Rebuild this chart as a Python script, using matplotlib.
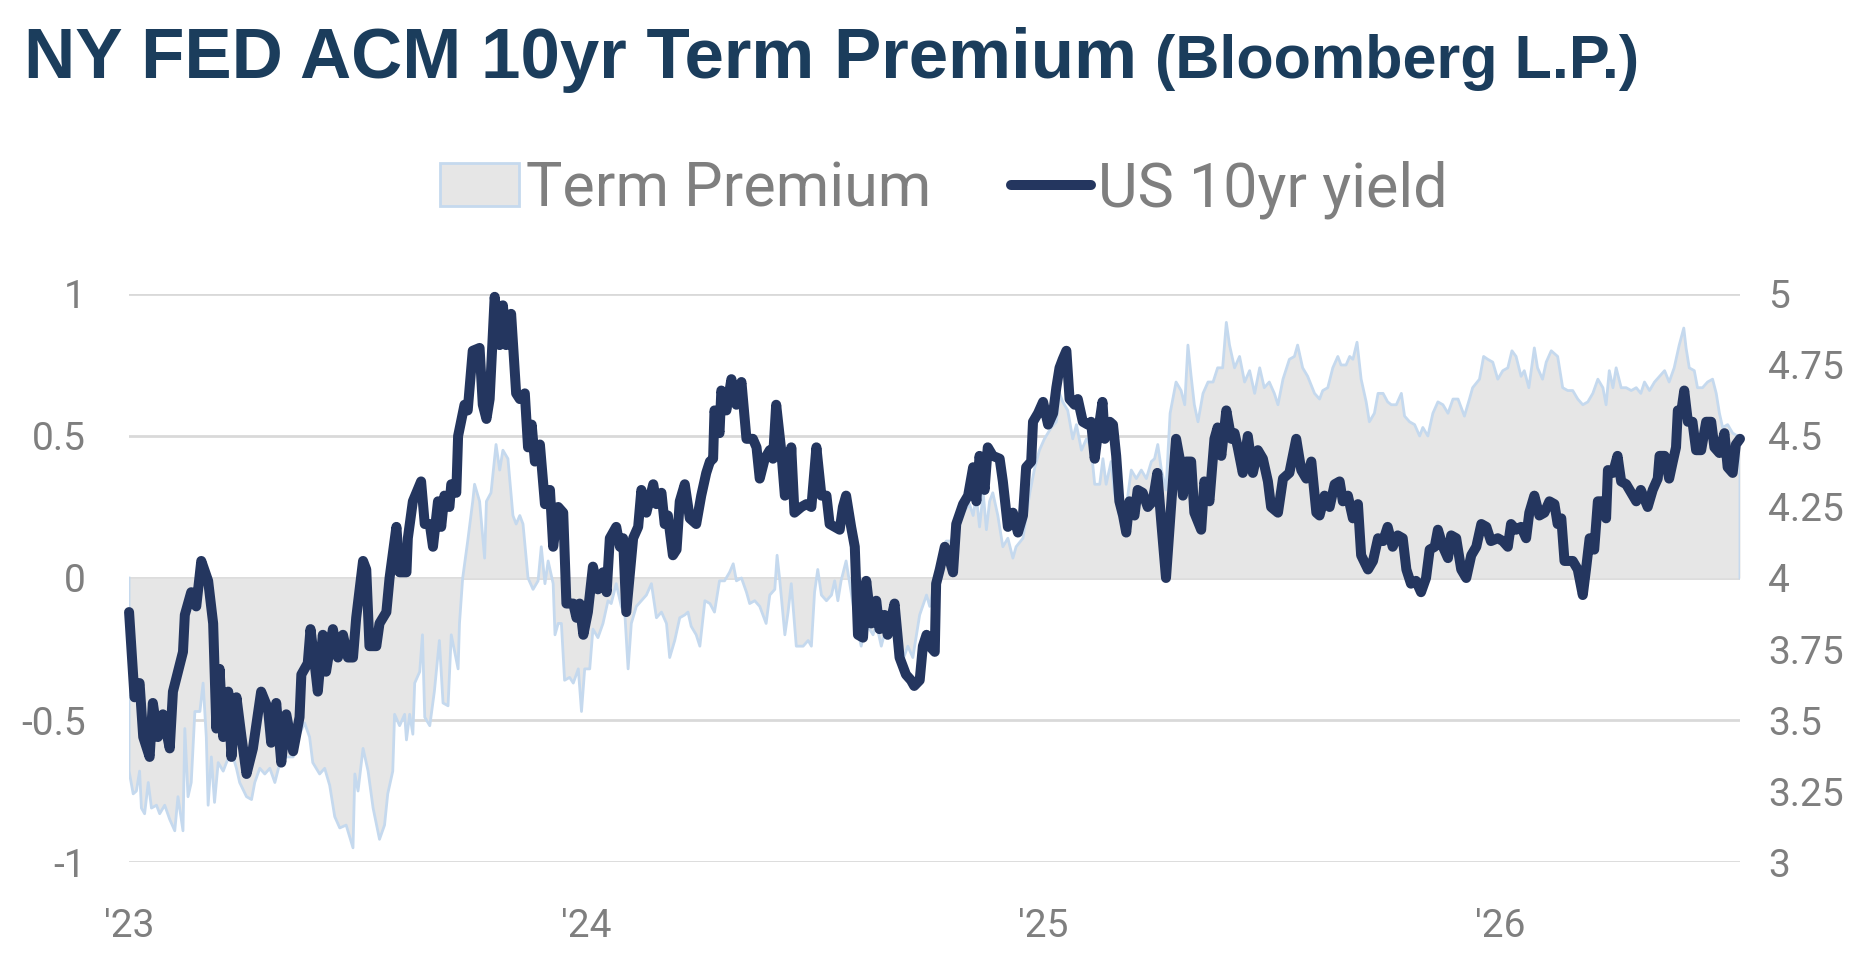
import matplotlib
matplotlib.use("Agg")
import matplotlib.pyplot as plt
from matplotlib import font_manager as fm
from matplotlib.patches import Patch
from matplotlib.lines import Line2D

plt.rcParams['axes.unicode_minus'] = False

names = {f.name for f in fm.fontManager.ttflist}


def pick(*cands):
    for c in cands:
        if c in names:
            return c
    return 'DejaVu Sans'


title_font = pick('Liberation Sans', 'Roboto', 'Open Sans')
label_font = pick('Roboto', 'Lato', 'Open Sans')

# US 10yr yield (right axis), x in decimal years
yld_x = [2023.000, 2023.012, 2023.023, 2023.031, 2023.045, 2023.052, 2023.063, 2023.074, 2023.089, 2023.096,
         2023.107, 2023.118, 2023.122, 2023.136, 2023.147, 2023.158, 2023.173, 2023.184, 2023.191, 2023.198,
         2023.206, 2023.217, 2023.224, 2023.235, 2023.246, 2023.257, 2023.271, 2023.289, 2023.304, 2023.311,
         2023.322, 2023.333, 2023.344, 2023.359, 2023.373, 2023.377, 2023.391, 2023.397, 2023.406, 2023.413,
         2023.424, 2023.431, 2023.446, 2023.457, 2023.468, 2023.479, 2023.490, 2023.497, 2023.512, 2023.519,
         2023.526, 2023.541, 2023.548, 2023.563, 2023.570, 2023.585, 2023.592, 2023.607, 2023.610, 2023.621,
         2023.639, 2023.647, 2023.658, 2023.665, 2023.676, 2023.683, 2023.690, 2023.701, 2023.705, 2023.716,
         2023.720, 2023.734, 2023.741, 2023.752, 2023.767, 2023.774, 2023.782, 2023.789, 2023.800, 2023.811,
         2023.818, 2023.825, 2023.836, 2023.847,
         2023.855, 2023.866, 2023.873, 2023.881, 2023.888, 2023.899, 2023.910, 2023.921, 2023.928, 2023.939,
         2023.950, 2023.957, 2023.972, 2023.979, 2023.986, 2023.994, 2024.004, 2024.015, 2024.026, 2024.037,
         2024.045, 2024.052, 2024.066, 2024.074, 2024.081, 2024.088, 2024.103, 2024.114, 2024.121, 2024.132,
         2024.147, 2024.154, 2024.165, 2024.172, 2024.179, 2024.190, 2024.198, 2024.205, 2024.216, 2024.227,
         2024.241, 2024.252, 2024.263, 2024.271, 2024.278, 2024.281, 2024.292, 2024.296, 2024.307, 2024.318,
         2024.329, 2024.340, 2024.351, 2024.365, 2024.373, 2024.380, 2024.391, 2024.402, 2024.409, 2024.416,
         2024.427, 2024.435, 2024.445, 2024.449, 2024.456, 2024.471, 2024.482, 2024.493, 2024.504, 2024.515,
         2024.526, 2024.533, 2024.544, 2024.555, 2024.562, 2024.569, 2024.580, 2024.588, 2024.595, 2024.606,
         2024.613, 2024.624, 2024.635, 2024.642, 2024.653, 2024.660, 2024.675, 2024.686, 2024.700, 2024.711,
         2024.718,
         2024.730, 2024.737, 2024.745, 2024.752, 2024.763, 2024.766, 2024.774, 2024.785, 2024.796, 2024.803,
         2024.810, 2024.825, 2024.836, 2024.847, 2024.854, 2024.861, 2024.872, 2024.879, 2024.890, 2024.905,
         2024.912, 2024.923, 2024.934, 2024.945, 2024.956, 2024.963, 2024.974, 2024.978, 2024.989, 2025.000,
         2025.011, 2025.022, 2025.029, 2025.036, 2025.043, 2025.051, 2025.058, 2025.069, 2025.076, 2025.087,
         2025.098, 2025.105, 2025.113, 2025.120, 2025.130, 2025.135, 2025.146, 2025.153, 2025.160, 2025.167,
         2025.175, 2025.182, 2025.189, 2025.200, 2025.207, 2025.218, 2025.229, 2025.240, 2025.250, 2025.259,
         2025.269, 2025.280, 2025.291, 2025.299, 2025.306, 2025.313, 2025.324, 2025.331, 2025.346, 2025.353,
         2025.364, 2025.375, 2025.382, 2025.390, 2025.401, 2025.412, 2025.419, 2025.426, 2025.437, 2025.448,
         2025.459, 2025.470, 2025.481, 2025.492, 2025.499, 2025.514, 2025.525, 2025.539, 2025.554, 2025.565,
         2025.576, 2025.587, 2025.598,
         2025.605, 2025.616, 2025.627, 2025.638, 2025.649, 2025.656, 2025.667, 2025.678, 2025.689, 2025.696,
         2025.711, 2025.722, 2025.733, 2025.744, 2025.754, 2025.765, 2025.776, 2025.787, 2025.795, 2025.805,
         2025.816, 2025.827, 2025.838, 2025.846, 2025.857, 2025.864, 2025.875, 2025.886, 2025.893, 2025.904,
         2025.915, 2025.926, 2025.937, 2025.948, 2025.959, 2025.970, 2025.980, 2025.995, 2026.006, 2026.017,
         2026.024, 2026.035, 2026.046, 2026.057, 2026.064, 2026.075, 2026.086, 2026.097, 2026.108, 2026.119,
         2026.126, 2026.134, 2026.141, 2026.159, 2026.170, 2026.181, 2026.188, 2026.196, 2026.206, 2026.214,
         2026.225, 2026.232, 2026.236, 2026.247, 2026.257, 2026.265, 2026.276, 2026.287, 2026.298, 2026.308,
         2026.323, 2026.334, 2026.345, 2026.349, 2026.360, 2026.370, 2026.378, 2026.385, 2026.389, 2026.396,
         2026.403, 2026.411, 2026.421, 2026.429, 2026.440, 2026.451, 2026.462, 2026.469, 2026.480, 2026.491,
         2026.498, 2026.509, 2026.516, 2026.525]
yld = [3.88, 3.58, 3.63, 3.44, 3.37, 3.56, 3.44, 3.52, 3.40, 3.60,
       3.67, 3.74, 3.87, 3.95, 3.90, 4.06, 3.99, 3.84, 3.47, 3.68,
       3.44, 3.60, 3.37, 3.58, 3.44, 3.31, 3.40, 3.60, 3.54, 3.42,
       3.56, 3.35, 3.52, 3.39, 3.51, 3.66, 3.70, 3.82, 3.70, 3.60,
       3.80, 3.67, 3.82, 3.72, 3.80, 3.72, 3.72, 3.86, 4.06, 4.03,
       3.76, 3.76, 3.84, 3.88, 4.00, 4.18, 4.02, 4.02, 4.14, 4.27,
       4.34, 4.19, 4.19, 4.11, 4.27, 4.18, 4.29, 4.25, 4.33, 4.30,
       4.50, 4.61, 4.59, 4.80, 4.81, 4.61, 4.56, 4.63, 4.99, 4.82,
       4.96, 4.82, 4.93, 4.65,
       4.63, 4.65, 4.46, 4.54, 4.41, 4.47, 4.26, 4.31, 4.11, 4.25,
       4.23, 3.91, 3.91, 3.86, 3.91, 3.80, 3.88, 4.04, 3.96, 4.02,
       3.95, 4.14, 4.18, 4.11, 4.14, 3.88, 4.14, 4.18, 4.31, 4.23,
       4.33, 4.26, 4.30, 4.19, 4.22, 4.08, 4.10, 4.27, 4.33, 4.21,
       4.19, 4.29, 4.37, 4.41, 4.42, 4.59, 4.51, 4.66, 4.59, 4.70,
       4.61, 4.69, 4.49, 4.49, 4.46, 4.35, 4.42, 4.45, 4.42, 4.61,
       4.45, 4.29, 4.30, 4.46, 4.23, 4.25, 4.26, 4.25, 4.46, 4.29,
       4.29, 4.19, 4.18, 4.17, 4.25, 4.29, 4.18, 4.11, 3.80, 3.79,
       3.99, 3.84, 3.92, 3.82, 3.87, 3.80, 3.91, 3.72, 3.66, 3.64,
       3.62,
       3.64, 3.76, 3.80, 3.76, 3.74, 3.98, 4.03, 4.11, 4.06, 4.02,
       4.19, 4.26, 4.29, 4.39, 4.27, 4.43, 4.31, 4.46, 4.43, 4.42,
       4.34, 4.18, 4.23, 4.16, 4.22, 4.39, 4.41, 4.55, 4.58, 4.62,
       4.54, 4.58, 4.67, 4.74, 4.77, 4.80, 4.63, 4.61, 4.63, 4.55,
       4.54, 4.55, 4.42, 4.51, 4.62, 4.49, 4.55, 4.54, 4.43, 4.27,
       4.22, 4.16, 4.27, 4.22, 4.31, 4.30, 4.25, 4.27, 4.37, 4.19,
       4.00, 4.25, 4.49, 4.42, 4.29, 4.41, 4.41, 4.23, 4.17, 4.34,
       4.27, 4.49, 4.53, 4.43, 4.59, 4.49, 4.51, 4.46, 4.37, 4.50,
       4.37, 4.45, 4.42, 4.34, 4.25, 4.23, 4.35, 4.37, 4.49, 4.38,
       4.35, 4.41, 4.23,
       4.22, 4.29, 4.25, 4.33, 4.34, 4.27, 4.29, 4.21, 4.26, 4.08,
       4.03, 4.06, 4.14, 4.13, 4.18, 4.11, 4.15, 4.14, 4.03, 3.98,
       3.99, 3.95, 4.00, 4.10, 4.11, 4.17, 4.11, 4.07, 4.15, 4.14,
       4.03, 4.00, 4.08, 4.11, 4.19, 4.18, 4.13, 4.14, 4.13, 4.11,
       4.19, 4.17, 4.18, 4.14, 4.23, 4.29, 4.22, 4.23, 4.27, 4.26,
       4.19, 4.21, 4.06, 4.06, 4.03, 3.94, 4.03, 4.14, 4.10, 4.27,
       4.27, 4.21, 4.38, 4.37, 4.43, 4.34, 4.33, 4.30, 4.27, 4.31,
       4.25, 4.31, 4.35, 4.43, 4.43, 4.35, 4.41, 4.46, 4.59, 4.58,
       4.66, 4.55, 4.55, 4.45, 4.45, 4.55, 4.55, 4.46, 4.44, 4.51,
       4.39, 4.37, 4.47, 4.49]

# ACM term premium (left axis)
tp_x = [2023.000, 2023.009, 2023.016, 2023.023, 2023.027, 2023.034, 2023.042, 2023.049, 2023.060, 2023.067,
        2023.078, 2023.089, 2023.100, 2023.107, 2023.118, 2023.122, 2023.129, 2023.136, 2023.144, 2023.155,
        2023.162, 2023.169, 2023.173, 2023.180, 2023.187, 2023.195, 2023.206, 2023.213, 2023.224, 2023.235,
        2023.242, 2023.257, 2023.268, 2023.275, 2023.286, 2023.297, 2023.308, 2023.319, 2023.330, 2023.344,
        2023.359, 2023.373, 2023.384, 2023.395, 2023.402, 2023.417, 2023.428, 2023.439, 2023.450, 2023.461,
        2023.475, 2023.490, 2023.494, 2023.501, 2023.512, 2023.523, 2023.534, 2023.548, 2023.559, 2023.566,
        2023.577, 2023.581, 2023.592, 2023.603, 2023.607, 2023.614, 2023.621, 2023.625, 2023.636, 2023.642,
        2023.647, 2023.658, 2023.668, 2023.679, 2023.687, 2023.698, 2023.705, 2023.720, 2023.723, 2023.730,
        2023.741, 2023.752, 2023.756, 2023.767, 2023.778, 2023.782, 2023.792, 2023.803, 2023.811, 2023.818,
        2023.829, 2023.840, 2023.847,
        2023.855, 2023.862, 2023.873, 2023.884, 2023.895, 2023.902, 2023.910, 2023.917, 2023.928, 2023.932,
        2023.939, 2023.946, 2023.953, 2023.964, 2023.972, 2023.983, 2023.990, 2023.997, 2024.008, 2024.015,
        2024.026, 2024.037, 2024.048, 2024.055, 2024.066, 2024.077, 2024.085, 2024.092, 2024.099, 2024.110,
        2024.121, 2024.132, 2024.143, 2024.154, 2024.165, 2024.176, 2024.183, 2024.194, 2024.205, 2024.216,
        2024.223, 2024.230, 2024.241, 2024.249, 2024.260, 2024.271, 2024.281, 2024.292, 2024.303, 2024.314,
        2024.322, 2024.329, 2024.340, 2024.351, 2024.358, 2024.369, 2024.380, 2024.394, 2024.402, 2024.413,
        2024.418, 2024.424, 2024.435, 2024.442, 2024.449, 2024.460, 2024.475, 2024.486, 2024.493, 2024.500,
        2024.507, 2024.515, 2024.526, 2024.537, 2024.544, 2024.551, 2024.558, 2024.569, 2024.577, 2024.591,
        2024.602, 2024.613, 2024.628, 2024.635, 2024.646, 2024.657, 2024.671, 2024.682, 2024.693, 2024.704,
        2024.715,
        2024.730, 2024.745, 2024.752, 2024.763, 2024.774, 2024.788, 2024.799, 2024.810, 2024.825, 2024.839,
        2024.847, 2024.854, 2024.861, 2024.869, 2024.876, 2024.883, 2024.890, 2024.901, 2024.912, 2024.923,
        2024.934, 2024.941, 2024.956, 2024.971, 2024.982, 2024.992, 2025.003, 2025.018, 2025.029, 2025.036,
        2025.043, 2025.054, 2025.065, 2025.073, 2025.084, 2025.095, 2025.105, 2025.113, 2025.124, 2025.131,
        2025.138, 2025.149, 2025.156, 2025.167, 2025.182, 2025.193, 2025.204, 2025.215, 2025.226, 2025.237,
        2025.244, 2025.251, 2025.259, 2025.269, 2025.278, 2025.291, 2025.302, 2025.310, 2025.317, 2025.324,
        2025.331, 2025.339, 2025.350, 2025.361, 2025.372, 2025.382, 2025.393, 2025.401, 2025.408, 2025.419,
        2025.430, 2025.441, 2025.452, 2025.463, 2025.474, 2025.484, 2025.495, 2025.506, 2025.514, 2025.525,
        2025.539, 2025.550, 2025.557, 2025.568, 2025.579, 2025.594,
        2025.605, 2025.612, 2025.623, 2025.634, 2025.645, 2025.652, 2025.663, 2025.671, 2025.678, 2025.687,
        2025.696, 2025.707, 2025.714, 2025.725, 2025.733, 2025.744, 2025.754, 2025.762, 2025.773, 2025.784,
        2025.791, 2025.802, 2025.813, 2025.824, 2025.831, 2025.842, 2025.853, 2025.864, 2025.875, 2025.886,
        2025.897, 2025.908, 2025.922, 2025.933, 2025.940, 2025.955, 2025.964, 2025.973, 2025.984, 2025.995,
        2026.006, 2026.017, 2026.026, 2026.035, 2026.046, 2026.053, 2026.063, 2026.075, 2026.082, 2026.093,
        2026.101, 2026.112, 2026.126, 2026.137, 2026.148, 2026.159, 2026.170, 2026.181, 2026.192, 2026.203,
        2026.214, 2026.225, 2026.232, 2026.239, 2026.247, 2026.254, 2026.265, 2026.276, 2026.287, 2026.298,
        2026.308, 2026.316, 2026.327, 2026.338, 2026.349, 2026.360, 2026.370, 2026.381, 2026.392, 2026.402,
        2026.407, 2026.414, 2026.425, 2026.432, 2026.443, 2026.454, 2026.465, 2026.473, 2026.480, 2026.487,
        2026.498, 2026.509, 2026.520, 2026.525]
tp = [-0.68, -0.76, -0.75, -0.68, -0.81, -0.83, -0.72, -0.81, -0.80, -0.83,
      -0.80, -0.85, -0.89, -0.77, -0.89, -0.53, -0.77, -0.72, -0.47, -0.47,
      -0.37, -0.56, -0.80, -0.63, -0.79, -0.65, -0.68, -0.65, -0.61, -0.67,
      -0.72, -0.77, -0.78, -0.72, -0.67, -0.69, -0.67, -0.72, -0.65, -0.63,
      -0.63, -0.55, -0.51, -0.56, -0.65, -0.69, -0.67, -0.73, -0.84, -0.88,
      -0.87, -0.95, -0.69, -0.75, -0.60, -0.68, -0.81, -0.92, -0.87, -0.76,
      -0.68, -0.48, -0.52, -0.48, -0.57, -0.48, -0.55, -0.37, -0.33, -0.20,
      -0.49, -0.52, -0.40, -0.22, -0.44, -0.45, -0.20, -0.32, -0.16, 0.00,
      0.13, 0.27, 0.33, 0.27, 0.07, 0.27, 0.30, 0.47, 0.38, 0.45,
      0.42, 0.22, 0.19,
      0.22, 0.19, 0.00, -0.04, -0.01, 0.11, -0.02, 0.06, -0.02, -0.20,
      -0.16, -0.16, -0.36, -0.35, -0.37, -0.32, -0.47, -0.32, -0.32, -0.18,
      -0.21, -0.16, -0.08, -0.09, -0.02, -0.10, -0.13, -0.32, -0.16, -0.10,
      -0.08, -0.06, -0.02, -0.14, -0.12, -0.16, -0.28, -0.22, -0.14, -0.13,
      -0.12, -0.17, -0.20, -0.24, -0.08, -0.09, -0.12, -0.01, -0.01, 0.02,
      0.05, -0.01, 0.00, -0.05, -0.09, -0.08, -0.10, -0.16, -0.06, -0.04,
      0.08, -0.01, -0.20, -0.12, -0.02, -0.24, -0.24, -0.22, -0.24, -0.05,
      0.03, -0.06, -0.08, -0.06, -0.01, -0.08, -0.01, 0.06, -0.02, -0.16,
      -0.24, -0.16, -0.20, -0.16, -0.24, -0.17, -0.16, -0.24, -0.29, -0.24,
      -0.28,
      -0.13, -0.06, -0.10, -0.01, 0.03, 0.13, 0.13, 0.19, 0.23, 0.26,
      0.22, 0.29, 0.18, 0.30, 0.17, 0.27, 0.30, 0.22, 0.11, 0.14,
      0.07, 0.11, 0.14, 0.30, 0.39, 0.45, 0.49, 0.53, 0.55, 0.65,
      0.62, 0.59, 0.49, 0.54, 0.45, 0.49, 0.46, 0.33, 0.33, 0.42,
      0.33, 0.41, 0.30, 0.22, 0.25, 0.38, 0.35, 0.38, 0.35, 0.41,
      0.42, 0.47, 0.38, 0.31, 0.58, 0.69, 0.66, 0.61, 0.82, 0.71,
      0.61, 0.55, 0.65, 0.69, 0.69, 0.74, 0.74, 0.90, 0.82, 0.74,
      0.78, 0.69, 0.73, 0.65, 0.74, 0.67, 0.69, 0.65, 0.61, 0.70,
      0.77, 0.78, 0.82, 0.74, 0.71, 0.65,
      0.63, 0.66, 0.67, 0.74, 0.78, 0.75, 0.75, 0.78, 0.77, 0.83,
      0.70, 0.62, 0.55, 0.58, 0.65, 0.65, 0.62, 0.61, 0.61, 0.65,
      0.57, 0.55, 0.54, 0.50, 0.53, 0.50, 0.58, 0.62, 0.61, 0.58,
      0.63, 0.63, 0.57, 0.63, 0.67, 0.70, 0.78, 0.77, 0.76, 0.70,
      0.73, 0.74, 0.80, 0.78, 0.71, 0.73, 0.67, 0.81, 0.74, 0.70,
      0.76, 0.80, 0.78, 0.67, 0.66, 0.66, 0.63, 0.61, 0.62, 0.65,
      0.70, 0.67, 0.61, 0.73, 0.67, 0.74, 0.67, 0.67, 0.66, 0.67,
      0.65, 0.69, 0.66, 0.69, 0.71, 0.73, 0.69, 0.74, 0.82, 0.88,
      0.81, 0.74, 0.73, 0.67, 0.67, 0.69, 0.70, 0.65, 0.58, 0.53,
      0.54, 0.51, 0.50, 0.49]

left_ticks = [-1, -0.5, 0, 0.5, 1]
left_labels = ['-1', '-0.5', '0', '0.5', '1']
right_ticks = [3, 3.25, 3.5, 3.75, 4, 4.25, 4.5, 4.75, 5]
right_labels = ['3', '3.25', '3.5', '3.75', '4', '4.25', '4.5', '4.75', '5']
year_ticks = [2023, 2024, 2025, 2026]
year_labels = ["'23", "'24", "'25", "'26"]

navy = '#24365f'
tp_line = '#c5d9ee'
tp_fill = '#e6e6e6'
grid_c = '#d9d9d9'
gray = '#7f7f7f'
title_c = '#1b3d5c'

fig = plt.figure(figsize=(18.76, 9.56), dpi=100)
ax = fig.add_axes([0.0688, 0.0983, 0.8587, 0.5942])
ax2 = ax.twinx()

# term premium area
ax.fill_between(tp_x, 0, tp, color=tp_fill, lw=0, zorder=1)
ax.plot([tp_x[0]] + tp_x + [tp_x[-1]], [0] + tp + [0], color=tp_line, lw=2.0, zorder=2)

# 10yr yield
ax2.plot(yld_x, yld, color=navy, lw=7.2, solid_joinstyle='round', solid_capstyle='round', clip_on=False)

ax.set_xlim(yld_x[0], yld_x[-1])
ax.set_ylim(-1, 1)
ax2.set_ylim(3, 5)

ax.set_axisbelow(True)
ax.yaxis.grid(True, color=grid_c, lw=2.0, zorder=0)
ax.set_yticks(left_ticks)
ax.set_yticklabels(left_labels)
ax2.set_yticks(right_ticks)
ax2.set_yticklabels(right_labels)
ax.set_xticks(year_ticks)
ax.set_xticklabels(year_labels)

for a in (ax, ax2):
    for s in a.spines.values():
        s.set_visible(False)
ax.tick_params(axis='y', length=0, pad=31, labelsize=28, labelcolor=gray)
ax.tick_params(axis='x', length=0, pad=33, labelsize=28, labelcolor=gray)
ax2.tick_params(axis='y', length=0, pad=20, labelsize=28, labelcolor=gray)
for lab in ax.get_xticklabels() + ax.get_yticklabels() + ax2.get_yticklabels():
    lab.set_fontfamily(label_font)

# legend
handles = [Patch(facecolor=tp_fill, edgecolor=tp_line, lw=2),
           Line2D([0], [0], color=navy, lw=7.2, solid_capstyle='round')]
fig.legend(handles, ['Term Premium', 'US 10yr yield'], loc='center', bbox_to_anchor=(0.503, 0.802),
           ncol=2, frameon=False, handlelength=1.3, handleheight=0.7, handletextpad=0.12,
           columnspacing=1.3, labelcolor=gray,
           prop={'family': label_font, 'size': 44})

# title
t1 = fig.text(24 / 1876, 1 - 78 / 956, 'NY FED ACM 10yr Term Premium', ha='left', va='baseline',
              fontsize=51, fontweight='bold', color=title_c, family=title_font)
fig.canvas.draw()
bb = t1.get_window_extent()
fig.text((bb.x1 + 18) / 1876, 1 - 78 / 956, '(Bloomberg L.P.)', ha='left', va='baseline',
         fontsize=44, fontweight='bold', color=title_c, family=title_font)

fig.savefig('out.png', dpi=100)
